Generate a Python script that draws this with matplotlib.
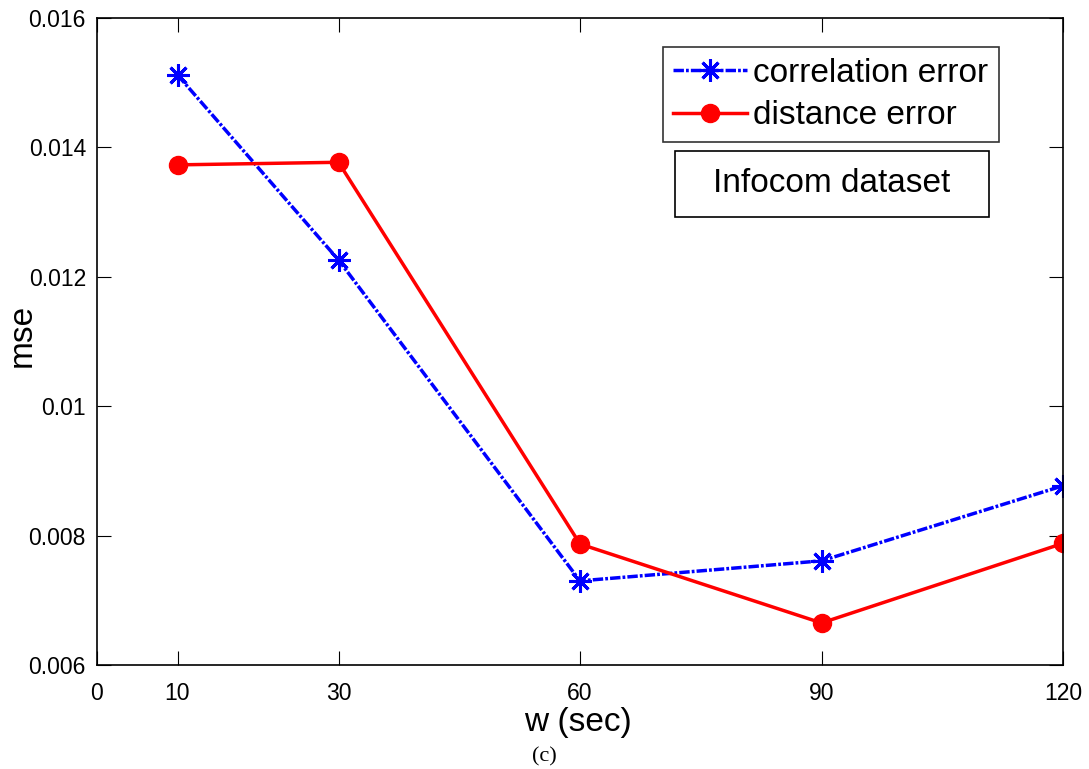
import matplotlib.pyplot as plt

plt.rcParams['font.family'] = ['Liberation Sans', 'DejaVu Sans']

# window size (sec)
w = [10, 30, 60, 90, 120]
corr_err = [0.01512, 0.01226, 0.00730, 0.00761, 0.00877]
dist_err = [0.01373, 0.01377, 0.00787, 0.00665, 0.00788]

xticks = [0, 10, 30, 60, 90, 120]
yticks = [0.006, 0.008, 0.01, 0.012, 0.014, 0.016]
ytick_labels = ["0.006", "0.008", "0.01", "0.012", "0.014", "0.016"]

fig = plt.figure(figsize=(10.89, 7.69), dpi=100)
ax = fig.add_axes([97 / 1089, 1 - 665 / 769, (1063 - 97) / 1089, (665 - 18) / 769])

ax.plot(w, corr_err, color="#0000ff", linewidth=2.5, dashes=(3, 0.6, 0.8, 0.6),
        marker=(8, 2, 0), markersize=16, markeredgewidth=2.2, label="correlation error")
ax.plot(w, dist_err, color="#ff0000", linewidth=2.5, marker="o", markersize=13,
        label="distance error")

ax.set_xlim(0, 120)
ax.set_ylim(0.006, 0.016)
ax.set_xticks(xticks)
ax.set_yticks(yticks)
ax.set_yticklabels(ytick_labels)
ax.tick_params(direction="in", length=10, top=True, right=True, labelsize=16.5, pad=8)
ax.tick_params(axis="x", pad=12)
for s in ax.spines.values():
    s.set_linewidth(1.2)

ax.set_xlabel("w (sec)", fontsize=24, va="center")
ax.xaxis.set_label_coords((578 - 97) / 966, (665 - 722) / 647)
ax.set_ylabel("mse", fontsize=24, va="center")
ax.yaxis.set_label_coords((22 - 97) / 966, (665 - 335) / 647)

leg = ax.legend(loc="upper right", bbox_to_anchor=(999 / 1089, 1 - 47 / 769),
                bbox_transform=fig.transFigure, fontsize=24, frameon=True, fancybox=False,
                edgecolor="black", handlelength=2.2, handletextpad=0.2, borderpad=0.32,
                labelspacing=0.35, borderaxespad=0)
leg.get_frame().set_linewidth(1.2)

ax.text(832 / 1089, 1 - 184 / 769, "Infocom dataset", transform=fig.transFigure,
        fontsize=24, ha="center", va="center")
box = plt.Rectangle((675 / 1089, 1 - 217 / 769), (989 - 675) / 1089, (217 - 151) / 769,
                    transform=fig.transFigure, fill=False, edgecolor="black", linewidth=1.2)
fig.patches.append(box)

fig.text(544 / 1089, 1 - 757 / 769, "(c)", fontsize=16, ha="center", va="center",
         family=["Liberation Serif", "DejaVu Serif"])

fig.savefig("out.png", dpi=100)
